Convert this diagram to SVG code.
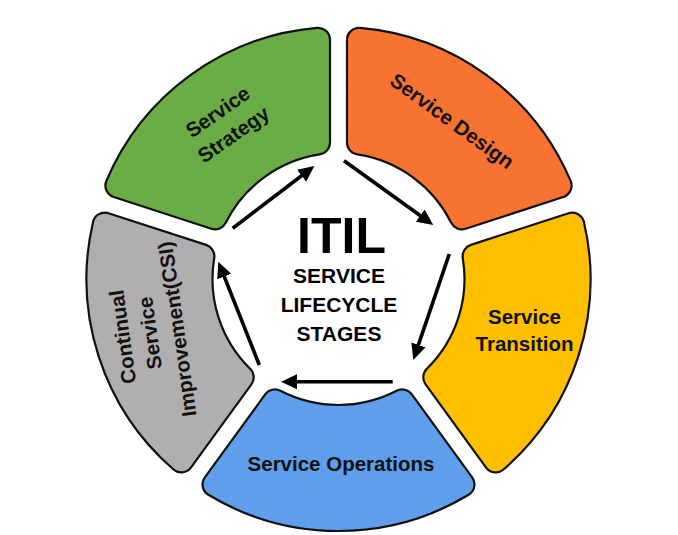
<svg xmlns="http://www.w3.org/2000/svg" xmlns:xlink="http://www.w3.org/1999/xlink" width="678" height="535" viewBox="0 0 678 535">
  <style>
    .edge { fill: #111; stroke: #111; stroke-width: 26.2; stroke-linejoin: round; }
    .body { stroke-width: 21.8; stroke-linejoin: round; }
    .green { fill: #6aad47; stroke: #6aad47; }
    .orange { fill: #f87234; stroke: #f87234; }
    .yellow { fill: #fdbf00; stroke: #fdbf00; }
    .blue { fill: #5e9eeb; stroke: #5e9eeb; }
    .gray { fill: #b0aeae; stroke: #b0aeae; }
    .label { font-family: "Liberation Sans", Arial, sans-serif; font-weight: 700; font-size: 20.5px; fill: #111; text-anchor: middle; }
    .title { font-family: "Liberation Sans", Arial, sans-serif; font-weight: 700; fill: #000; text-anchor: middle; }
    .arrow { fill: none; stroke: #000; stroke-width: 3.6; marker-end: url(#head); }
  </style>
  <defs>
    <path id="seg" d="M63.632 122.453 L123.971 205.5 A240 240 0 0 1 -123.971 205.5 L-63.632 122.453 A138 138 0 0 0 63.632 122.453 Z"/>
    <marker id="head" markerUnits="userSpaceOnUse" markerWidth="18" markerHeight="16" viewBox="0 -8 18 16" refX="2" refY="0" orient="auto">
      <path d="M0 -7.5 L16 0 L0 7.5 Z" fill="#000"/>
    </marker>
  </defs>
  <rect width="678" height="535" fill="#fff"/>

  <g id="node-strategy">
    <use xlink:href="#seg" href="#seg" class="edge" transform="translate(338.5 279) rotate(144)"/>
    <use xlink:href="#seg" href="#seg" class="body green" transform="translate(338.5 279) rotate(144)"/>
    <text class="label" transform="translate(225.5 123) rotate(-35)"><tspan x="0" y="-6.5">Service</tspan><tspan x="0" y="21">Strategy</tspan></text>
  </g>

  <g id="node-design">
    <use xlink:href="#seg" href="#seg" class="edge" transform="translate(338.5 279) rotate(-144)"/>
    <use xlink:href="#seg" href="#seg" class="body orange" transform="translate(338.5 279) rotate(-144)"/>
    <text class="label" transform="translate(452 121) rotate(36)" x="0" y="7">Service Design</text>
  </g>

  <g id="node-transition">
    <use xlink:href="#seg" href="#seg" class="edge" transform="translate(338.5 279) rotate(-72)"/>
    <use xlink:href="#seg" href="#seg" class="body yellow" transform="translate(338.5 279) rotate(-72)"/>
    <text class="label"><tspan x="524.5" y="324">Service</tspan><tspan x="524.5" y="351">Transition</tspan></text>
  </g>

  <g id="node-operations">
    <use xlink:href="#seg" href="#seg" class="edge" transform="translate(338.5 279)"/>
    <use xlink:href="#seg" href="#seg" class="body blue" transform="translate(338.5 279)"/>
    <text class="label" x="341" y="470.5">Service Operations</text>
  </g>

  <g id="node-csi">
    <use xlink:href="#seg" href="#seg" class="edge" transform="translate(338.5 279) rotate(72)"/>
    <use xlink:href="#seg" href="#seg" class="body gray" transform="translate(338.5 279) rotate(72)"/>
    <text class="label" transform="translate(150 333) rotate(-98)"><tspan x="0" y="-20.5">Continual</tspan><tspan x="0" y="7">Service</tspan><tspan x="0" y="34.5">Improvement(CSI)</tspan></text>
  </g>

  <g id="node-center">
    <text class="title" x="341.5" y="253" font-size="50">ITIL</text>
    <text class="title" font-size="21"><tspan x="339" y="283">SERVICE</tspan><tspan x="339" y="312">LIFECYCLE</tspan><tspan x="339" y="341">STAGES</tspan></text>
  </g>

  <g id="connectors">
    <path class="arrow" d="M232.7 228.3 L303.2 174.5"/>
    <path class="arrow" d="M344 160.7 L421.9 216.8"/>
    <path class="arrow" d="M449.3 254 L417.8 346.7"/>
    <path class="arrow" d="M392.7 381.7 L295 381.7"/>
    <path class="arrow" d="M259.3 365 L223.5 274.7"/>
  </g>
</svg>
